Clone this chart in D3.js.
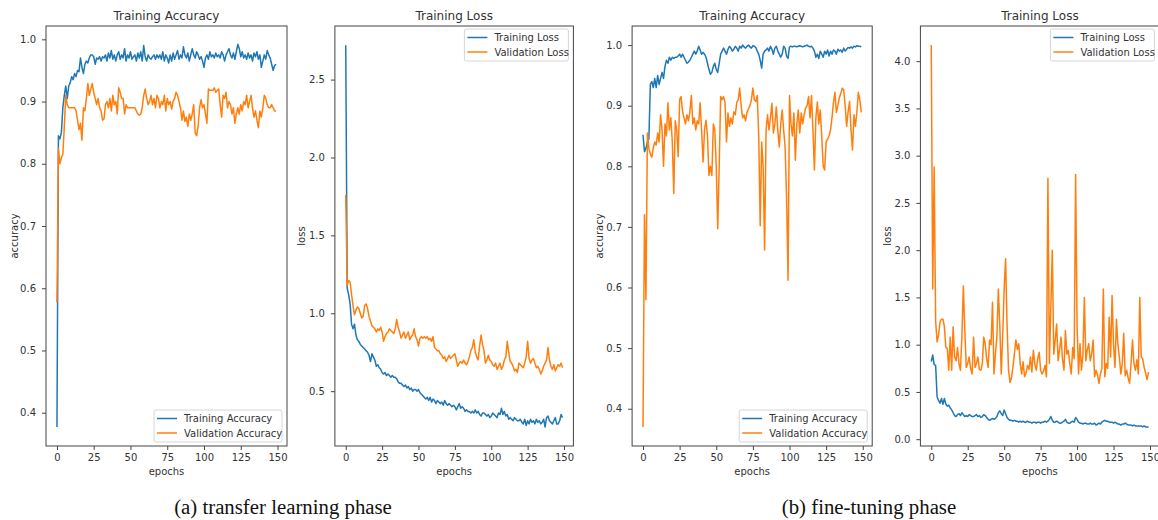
<!DOCTYPE html>
<html>
<head>
<meta charset="utf-8">
<script src="https://cdn.jsdelivr.net/npm/d3@7"></script>
<style>
  body { margin: 0; background: #fff; }
  svg text { font-family: "DejaVu Sans", sans-serif; fill: #333; }
  .caption { font-family: "Liberation Serif", "DejaVu Serif", serif; fill: #111; }
</style>
</head>
<body>
<svg id="chart" width="1158" height="520"></svg>
<script>
// epochs 0..149
const epochs = d3.range(150);

// (a) transfer learning phase
const trainAccA = [
  0.377,0.845,0.84,0.85,0.89,0.91,0.925,0.905,0.925,0.93,
  0.94,0.935,0.945,0.94,0.95,0.948,0.97,0.955,0.945,0.96,
  0.965,0.962,0.97,0.975,0.975,0.972,0.96,0.97,0.968,0.972,
  0.965,0.972,0.97,0.975,0.965,0.978,0.97,0.982,0.968,0.975,
  0.965,0.975,0.98,0.968,0.975,0.97,0.985,0.965,0.975,0.97,
  0.98,0.968,0.972,0.975,0.965,0.978,0.97,0.98,0.965,0.99,
  0.972,0.965,0.975,0.97,0.968,0.972,0.975,0.968,0.975,0.97,
  0.975,0.968,0.98,0.965,0.975,0.97,0.962,0.975,0.965,0.978,
  0.968,0.975,0.982,0.968,0.975,0.97,0.988,0.975,0.97,0.978,
  0.965,0.975,0.985,0.975,0.97,0.98,0.975,0.968,0.972,0.965,
  0.955,0.97,0.975,0.968,0.98,0.972,0.975,0.97,0.978,0.972,
  0.975,0.97,0.98,0.975,0.965,0.975,0.98,0.985,0.975,0.97,
  0.978,0.968,0.98,0.992,0.985,0.972,0.98,0.97,0.975,0.968,
  0.978,0.97,0.975,0.965,0.978,0.972,0.98,0.968,0.975,0.955,
  0.965,0.975,0.968,0.982,0.975,0.97,0.96,0.95,0.958,0.96
];
const valAccA = [
  0.577,0.825,0.80,0.81,0.815,0.86,0.91,0.895,0.89,0.89,
  0.89,0.89,0.89,0.885,0.87,0.855,0.865,0.838,0.89,0.885,
  0.905,0.929,0.91,0.92,0.929,0.915,0.905,0.895,0.905,0.89,
  0.885,0.87,0.872,0.895,0.9,0.89,0.905,0.885,0.91,0.895,
  0.9,0.88,0.922,0.915,0.905,0.905,0.88,0.895,0.89,0.89,
  0.89,0.89,0.89,0.89,0.885,0.88,0.878,0.88,0.89,0.91,
  0.92,0.905,0.895,0.9,0.91,0.895,0.905,0.89,0.91,0.905,
  0.89,0.9,0.895,0.91,0.885,0.905,0.895,0.9,0.888,0.9,
  0.905,0.915,0.91,0.9,0.89,0.87,0.885,0.868,0.875,0.86,
  0.88,0.87,0.88,0.895,0.85,0.845,0.86,0.89,0.903,0.89,
  0.895,0.88,0.865,0.92,0.918,0.918,0.918,0.922,0.915,0.918,
  0.92,0.895,0.875,0.91,0.905,0.915,0.89,0.9,0.895,0.88,
  0.89,0.865,0.88,0.89,0.88,0.895,0.885,0.9,0.895,0.91,
  0.89,0.9,0.91,0.89,0.875,0.885,0.87,0.858,0.885,0.875,
  0.89,0.91,0.905,0.895,0.89,0.89,0.895,0.89,0.885,0.885
];
const trainLossA = [
  2.72,1.16,1.12,1.06,0.93,0.90,0.93,0.86,0.83,0.82,
  0.80,0.79,0.78,0.77,0.76,0.75,0.73,0.69,0.74,0.72,
  0.70,0.66,0.67,0.65,0.64,0.62,0.61,0.62,0.60,0.61,
  0.60,0.59,0.60,0.59,0.59,0.58,0.56,0.55,0.55,0.54,
  0.53,0.54,0.52,0.53,0.51,0.52,0.50,0.51,0.51,0.50,
  0.51,0.49,0.48,0.47,0.46,0.45,0.46,0.44,0.46,0.43,
  0.45,0.44,0.42,0.44,0.43,0.42,0.43,0.41,0.44,0.42,
  0.41,0.42,0.41,0.40,0.41,0.40,0.38,0.40,0.42,0.39,
  0.40,0.39,0.37,0.38,0.37,0.37,0.36,0.37,0.36,0.38,
  0.36,0.37,0.35,0.34,0.36,0.36,0.35,0.34,0.35,0.33,
  0.34,0.36,0.35,0.34,0.33,0.36,0.35,0.39,0.35,0.37,
  0.34,0.35,0.32,0.33,0.32,0.31,0.33,0.32,0.31,0.31,
  0.32,0.30,0.29,0.32,0.28,0.31,0.29,0.32,0.30,0.31,
  0.29,0.32,0.30,0.31,0.29,0.30,0.32,0.27,0.33,0.34,
  0.31,0.30,0.29,0.31,0.33,0.29,0.29,0.31,0.35,0.33
];
const valLossA = [
  1.76,1.18,1.21,1.20,1.12,1.05,0.99,1.02,1.04,1.03,
  1.00,0.97,0.98,1.05,1.06,1.03,0.98,0.95,0.92,0.91,
  0.90,0.88,0.90,0.89,0.91,0.88,0.82,0.85,0.87,0.88,
  0.90,0.89,0.88,0.87,0.90,0.96,0.91,0.88,0.84,0.86,
  0.88,0.84,0.86,0.88,0.83,0.85,0.86,0.90,0.85,0.83,
  0.79,0.84,0.85,0.84,0.85,0.84,0.85,0.83,0.84,0.82,
  0.85,0.78,0.77,0.76,0.76,0.74,0.73,0.71,0.72,0.69,
  0.71,0.73,0.71,0.72,0.73,0.74,0.70,0.66,0.68,0.69,
  0.68,0.70,0.68,0.67,0.69,0.72,0.76,0.78,0.83,0.75,
  0.72,0.70,0.79,0.86,0.80,0.76,0.68,0.70,0.73,0.70,
  0.69,0.67,0.66,0.68,0.64,0.66,0.68,0.64,0.66,0.70,
  0.72,0.82,0.75,0.69,0.68,0.66,0.63,0.64,0.62,0.68,
  0.67,0.66,0.65,0.68,0.72,0.82,0.71,0.68,0.70,0.71,
  0.68,0.65,0.66,0.64,0.61,0.63,0.66,0.68,0.70,0.78,
  0.70,0.66,0.64,0.67,0.63,0.65,0.67,0.66,0.68,0.65
];

// (b) fine-tuning phase
const trainAccB = [
  0.852,0.824,0.83,0.84,0.845,0.935,0.94,0.93,0.945,0.93,
  0.95,0.935,0.945,0.955,0.945,0.965,0.975,0.97,0.98,0.975,
  0.98,0.978,0.98,0.98,0.982,0.985,0.98,0.985,0.98,0.975,
  0.97,0.972,0.975,0.98,0.985,0.99,0.985,0.99,0.998,0.992,
  0.985,0.988,0.985,0.98,0.97,0.96,0.952,0.955,0.965,0.97,
  0.96,0.955,0.97,0.985,0.99,0.995,0.99,0.985,0.993,0.998,
  0.995,0.99,0.993,0.998,0.995,0.99,0.998,0.995,1.0,0.997,
  0.995,0.998,1.0,0.997,0.995,0.999,0.998,0.996,0.99,0.985,
  0.975,0.962,0.985,0.99,0.992,0.995,0.99,0.998,0.993,0.985,
  0.995,0.998,0.99,0.985,0.98,0.985,0.998,0.995,0.982,0.978,
  0.997,0.998,0.997,0.998,0.998,0.997,0.998,0.999,0.998,0.997,
  0.998,0.999,1.0,0.998,0.997,0.998,0.995,0.99,0.98,0.985,
  0.978,0.99,0.985,0.98,0.99,0.985,0.992,0.982,0.99,0.985,
  0.992,0.99,0.985,0.993,0.99,0.992,0.988,0.995,0.99,0.993,
  0.996,0.995,0.997,0.995,0.998,0.997,0.999,0.998,0.998,0.997
];
const valAccB = [
  0.37,0.72,0.58,0.855,0.83,0.82,0.815,0.83,0.84,0.835,
  0.855,0.84,0.885,0.86,0.80,0.87,0.85,0.905,0.86,0.88,
  0.84,0.755,0.875,0.86,0.816,0.91,0.915,0.89,0.88,0.87,
  0.885,0.875,0.89,0.917,0.87,0.88,0.86,0.875,0.87,0.905,
  0.86,0.807,0.86,0.876,0.85,0.785,0.80,0.785,0.87,0.86,
  0.80,0.697,0.80,0.915,0.91,0.915,0.905,0.84,0.888,0.866,
  0.88,0.87,0.89,0.885,0.905,0.91,0.929,0.90,0.88,0.885,
  0.875,0.889,0.895,0.90,0.91,0.929,0.91,0.907,0.917,0.85,
  0.702,0.84,0.80,0.662,0.86,0.885,0.86,0.88,0.904,0.855,
  0.87,0.898,0.86,0.832,0.87,0.893,0.86,0.832,0.75,0.612,
  0.917,0.87,0.85,0.888,0.81,0.87,0.893,0.855,0.888,0.87,
  0.885,0.896,0.90,0.915,0.88,0.917,0.86,0.794,0.88,0.906,
  0.87,0.893,0.85,0.80,0.794,0.84,0.845,0.85,0.86,0.88,
  0.905,0.922,0.889,0.90,0.913,0.92,0.929,0.926,0.90,0.866,
  0.89,0.907,0.86,0.827,0.885,0.866,0.89,0.922,0.91,0.889
];
const trainLossB = [
  0.82,0.89,0.79,0.78,0.45,0.41,0.38,0.43,0.37,0.43,
  0.37,0.35,0.36,0.33,0.31,0.28,0.25,0.24,0.26,0.27,
  0.25,0.28,0.26,0.24,0.25,0.24,0.26,0.25,0.24,0.24,
  0.25,0.26,0.24,0.25,0.23,0.24,0.26,0.25,0.23,0.21,
  0.20,0.21,0.22,0.21,0.22,0.24,0.28,0.30,0.27,0.25,
  0.31,0.27,0.23,0.21,0.20,0.20,0.19,0.20,0.19,0.19,
  0.18,0.19,0.18,0.19,0.18,0.18,0.19,0.18,0.18,0.17,
  0.18,0.18,0.17,0.18,0.18,0.17,0.18,0.18,0.19,0.18,
  0.19,0.21,0.24,0.20,0.18,0.18,0.19,0.18,0.17,0.17,
  0.18,0.19,0.21,0.18,0.17,0.17,0.18,0.19,0.18,0.23,
  0.21,0.18,0.17,0.17,0.16,0.17,0.17,0.16,0.16,0.17,
  0.16,0.16,0.17,0.15,0.16,0.17,0.16,0.18,0.19,0.20,
  0.19,0.19,0.18,0.18,0.18,0.17,0.18,0.17,0.16,0.16,
  0.15,0.16,0.16,0.17,0.16,0.15,0.15,0.15,0.14,0.15,
  0.14,0.14,0.14,0.14,0.14,0.13,0.14,0.13,0.13,0.13
];
const valLossB = [
  4.17,1.59,2.88,1.25,1.03,1.10,1.24,1.27,1.27,1.19,
  0.97,0.96,0.73,1.08,0.73,1.19,0.87,0.83,0.97,0.80,
  0.73,1.08,1.62,1.15,0.76,0.80,0.87,0.75,0.69,1.08,
  0.76,0.80,0.87,0.74,0.73,0.80,1.08,1.01,0.85,0.76,
  1.05,1.00,1.45,0.69,0.90,1.08,1.59,1.20,0.69,1.10,
  1.60,1.91,1.20,0.73,0.60,0.65,0.76,0.90,1.05,0.95,
  1.01,0.80,0.69,0.82,0.66,0.70,0.78,0.74,0.87,0.71,
  0.94,0.80,0.73,0.85,0.92,0.73,0.69,0.72,0.78,0.66,
  2.76,0.80,1.40,2.00,0.90,1.05,1.22,0.83,0.95,1.08,
  0.85,0.73,1.15,0.90,0.94,0.80,0.69,0.97,0.85,2.80,
  1.20,0.69,1.01,0.73,0.90,1.50,0.83,0.95,1.01,0.83,
  0.90,1.05,0.66,0.73,0.68,0.59,0.69,0.75,1.59,0.66,
  0.80,0.75,1.29,0.87,1.52,1.00,0.76,1.27,1.00,0.87,
  0.69,0.80,1.12,0.67,0.73,0.65,0.59,0.80,1.05,0.80,
  0.73,0.84,0.69,1.50,0.87,0.85,0.76,0.70,0.63,0.71
];

const xTicks = [0, 25, 50, 75, 100, 125, 150];
const accTicks = [0.4, 0.5, 0.6, 0.7, 0.8, 0.9, 1.0];
const lossTicksA = [0.5, 1.0, 1.5, 2.0, 2.5];
const lossTicksB = [0.0, 0.5, 1.0, 1.5, 2.0, 2.5, 3.0, 3.5, 4.0];

const blue = "#1f77b4", orange = "#ff7f0e";
const svg = d3.select("#chart");

function drawPanel(p) {
  const x = d3.scaleLinear().domain([-7.45, 156.45]).range([p.left, p.right]);
  const y = d3.scaleLinear().domain(p.yDomain).range([p.bottom, p.top]);

  const g = svg.append("g");

  // clip so lines stay inside the frame
  const clipId = "clip" + p.id;
  g.append("clipPath").attr("id", clipId)
    .append("rect")
    .attr("x", p.left).attr("y", p.top)
    .attr("width", p.right - p.left).attr("height", p.bottom - p.top);

  const line = d3.line().x((d, i) => x(epochs[i])).y(d => y(d));

  g.append("path").datum(p.series[0])
    .attr("clip-path", "url(#" + clipId + ")")
    .attr("fill", "none").attr("stroke", blue).attr("stroke-width", 1.5)
    .attr("stroke-linejoin", "round")
    .attr("d", line);
  g.append("path").datum(p.series[1])
    .attr("clip-path", "url(#" + clipId + ")")
    .attr("fill", "none").attr("stroke", orange).attr("stroke-width", 1.5)
    .attr("stroke-linejoin", "round")
    .attr("d", line);

  // frame
  g.append("rect")
    .attr("x", p.left).attr("y", p.top)
    .attr("width", p.right - p.left).attr("height", p.bottom - p.top)
    .attr("fill", "none").attr("stroke", "#444").attr("stroke-width", 1);

  // axes
  const xAxis = g.append("g")
    .attr("transform", "translate(0," + p.bottom + ")")
    .call(d3.axisBottom(x).tickValues(xTicks).tickSize(4).tickPadding(4).tickFormat(d3.format("d")));
  const yAxis = g.append("g")
    .attr("transform", "translate(" + p.left + ",0)")
    .call(d3.axisLeft(y).tickValues(p.yTicks).tickSize(4).tickPadding(6).tickFormat(d3.format(".1f")));
  [xAxis, yAxis].forEach(a => {
    a.select(".domain").remove();
    a.selectAll("line").attr("stroke", "#444");
    a.selectAll("text").attr("font-size", 10).attr("fill", "#333")
      .style("font-family", "DejaVu Sans, sans-serif");
  });

  // title + labels
  g.append("text")
    .attr("x", (p.left + p.right) / 2).attr("y", 20)
    .attr("text-anchor", "middle").attr("font-size", 12)
    .text(p.title);
  g.append("text")
    .attr("x", (p.left + p.right) / 2).attr("y", 475)
    .attr("text-anchor", "middle").attr("font-size", 10)
    .text("epochs");
  g.append("text")
    .attr("transform", "translate(" + p.ylabelX + "," + ((p.top + p.bottom) / 2) + ") rotate(-90)")
    .attr("text-anchor", "middle").attr("font-size", 10)
    .text(p.ylabel);

  // legend
  const lw = p.legendW, lh = 32;
  const lx = p.right - 5 - lw;
  const ly = p.legendTop ? p.top + 3 : p.bottom - 4 - lh;
  const leg = g.append("g").attr("transform", "translate(" + lx + "," + ly + ")");
  leg.append("rect").attr("width", lw).attr("height", lh).attr("rx", 2)
    .attr("fill", "#fff").attr("fill-opacity", 0.8)
    .attr("stroke", "#d6d6d6").attr("stroke-width", 1);
  p.names.forEach((name, i) => {
    const cy = 8.5 + i * 14.5;
    leg.append("line").attr("x1", 3).attr("x2", 23).attr("y1", cy).attr("y2", cy)
      .attr("stroke", i === 0 ? blue : orange).attr("stroke-width", 1.5);
    leg.append("text").attr("x", 30).attr("y", cy + 3.5).attr("font-size", 10).text(name);
  });
}

drawPanel({
  id: "a1", left: 46, right: 287, top: 26, bottom: 446,
  yDomain: [0.3465, 1.0214], yTicks: accTicks,
  series: [trainAccA, valAccA], names: ["Training Accuracy", "Validation Accuracy"],
  title: "Training Accuracy", ylabel: "accuracy", ylabelX: 18,
  legendTop: false, legendW: 128
});
drawPanel({
  id: "a2", left: 334.9, right: 573.4, top: 26, bottom: 446,
  yDomain: [0.148, 2.844], yTicks: lossTicksA,
  series: [trainLossA, valLossA], names: ["Training Loss", "Validation Loss"],
  title: "Training Loss", ylabel: "loss", ylabelX: 305,
  legendTop: true, legendW: 104
});
drawPanel({
  id: "b1", left: 632.1, right: 872.2, top: 26, bottom: 446,
  yDomain: [0.3385, 1.0315], yTicks: accTicks,
  series: [trainAccB, valAccB], names: ["Training Accuracy", "Validation Accuracy"],
  title: "Training Accuracy", ylabel: "accuracy", ylabelX: 603,
  legendTop: false, legendW: 128
});
drawPanel({
  id: "b2", left: 920.4, right: 1159.4, top: 26, bottom: 446,
  yDomain: [-0.072, 4.372], yTicks: lossTicksB,
  series: [trainLossB, valLossB], names: ["Training Loss", "Validation Loss"],
  title: "Training Loss", ylabel: "loss", ylabelX: 891,
  legendTop: true, legendW: 104
});

// sub-figure captions
svg.append("text").attr("class", "caption")
  .attr("x", 283).attr("y", 514).attr("text-anchor", "middle").attr("font-size", 20.8)
  .text("(a) transfer learning phase");
svg.append("text").attr("class", "caption")
  .attr("x", 869).attr("y", 514).attr("text-anchor", "middle").attr("font-size", 20.8)
  .text("(b) fine-tuning phase");
</script>
</body>
</html>
